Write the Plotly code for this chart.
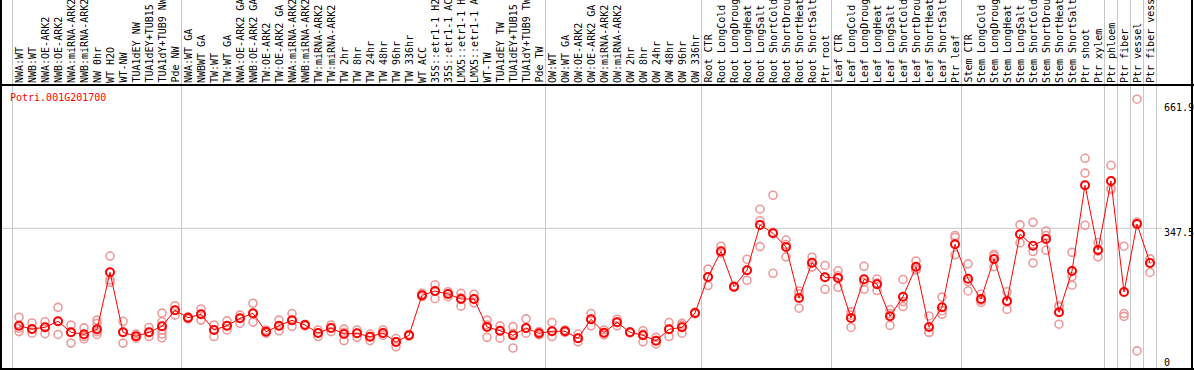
import plotly.graph_objects as go

title_text = "Potri.001G201700"

labels = [
    "NWA:WT", "NWB:WT", "NWA:OE-ARK2", "NWB:OE-ARK2", "NWA:miRNA-ARK2", "NWB:miRNA-ARK2",
    "NW 0hr", "WT H2O", "WT-NW", "TUA1dEY NW", "TUA1dEY+TUB15 NW", "TUA1dY+TUB9 NW", "Pde NW",
    "NWA:WT GA", "NWBWT GA", "TW:WT", "TW:WT GA", "NWA:OE-ARK2 GA", "NWB:OE-ARK2 GA",
    "TW:OE-ARK2", "TW:OE-ARK2 GA", "NWA:miRNA-ARK2", "NWB:miRNA-ARK2", "TW:miRNA-ARK2",
    "TW:miRNA-ARK2", "TW 2hr", "TW 8hr", "TW 24hr", "TW 48hr", "TW 96hr", "TW 336hr",
    "WT ACC", "35S::etr1-1 H2O", "35S::etr1-1 ACC", "LMX5::etr1-1 H2O", "LMX5::etr1-1 ACC",
    "WT-TW", "TUA1dEY TW", "TUA1dEY+TUB15 TW", "TUA1dY+TUB9 TW", "Pde TW",
    "OW:WT", "OW:WT GA", "OW:OE-ARK2", "OW:OE-ARK2 GA", "OW:miRNA-ARK2", "OW:miRNA-ARK2",
    "OW 2hr", "OW 8hr", "OW 24hr", "OW 48hr", "OW 96hr", "OW 336hr",
    "Root CTR", "Root LongCold", "Root LongDrought", "Root LongHeat", "Root LongSalt",
    "Root ShortCold", "Root ShortDrought", "Root ShortHeat", "Root ShortSalt", "Ptr root",
    "Leaf CTR", "Leaf LongCold", "Leaf LongDrought", "Leaf LongHeat", "Leaf LongSalt",
    "Leaf ShortCold", "Leaf ShortDrought", "Leaf ShortHeat", "Leaf ShortSalt", "Ptr leaf",
    "Stem CTR", "Stem LongCold", "Stem LongDrought", "Stem LongHeat", "Stem LongSalt",
    "Stem ShortCold", "Stem ShortDrought", "Stem ShortHeat", "Stem ShortSalt", "Ptr shoot",
    "Ptr xylem", "Ptr phloem", "Ptr fiber", "Ptr vessel", "Ptr fiber vessel",
]

means = [
    110.3, 102.3, 106.4, 121.0, 94.3, 89.4, 101.6, 240.4, 94.3, 84.5, 94.3, 108.9, 147.8,
    129.8, 138.1, 99.9, 110.3, 128.3, 140.5, 95.7, 110.3, 123.5, 112.0, 92.5, 104.7, 90.1,
    91.8, 83.5, 92.5, 70.6, 86.9, 184.4, 194.8, 187.5, 175.4, 175.4, 107.2, 98.1, 86.9,
    104.7, 91.8, 96.7, 96.7, 79.6, 125.9, 93.3, 118.6, 94.3, 86.9, 73.8, 101.6, 106.4,
    141.3, 228.9, 291.5, 205.3, 245.3, 355.6, 335.4, 302.0, 177.8, 263.8, 228.2, 226.5,
    129.1, 223.3, 211.2, 133.2, 181.0, 254.0, 107.2, 155.1, 308.6, 224.8, 175.4, 272.8,
    170.5, 332.9, 305.2, 321.5, 143.0, 243.5, 452.3, 294.7, 462.7, 192.4, 358.0, 263.0,
]

replicates = [
    [131, 104, 96], [117, 102, 92], [120, 106, 91], [155, 121, 89], [112, 94, 68],
    [105, 84, 78], [124, 116, 96, 89], [280, 222, 216], [121, 95, 68], [90, 84, 80],
    [106, 94, 84], [141, 120, 100, 90, 81], [159, 148, 136], [132, 130, 127], [151, 138, 124],
    [112, 100, 84], [122, 110, 100], [136, 128, 116], [165, 140, 119], [100, 96, 92],
    [124, 110, 98], [140, 123, 109], [114, 112, 110], [100, 93, 84], [112, 105, 96],
    [102, 94, 74], [100, 92, 82], [90, 84, 74], [100, 92, 87], [79, 71, 59],
    [89, 87, 85], [189, 184, 181], [210, 195, 176], [193, 188, 181], [189, 178, 158],
    [187, 175, 166], [124, 112, 82], [110, 98, 80], [108, 92, 56], [127, 104, 92],
    [96, 92, 88], [118, 97, 84], [100, 97, 94], [90, 80, 71], [140, 126, 110],
    [100, 93, 88], [126, 119, 110], [95, 94, 93], [98, 90, 71], [82, 74, 66],
    [118, 102, 84], [116, 111, 92], [143, 141, 139], [248, 229, 208], [304, 291, 287],
    [207, 205, 204], [272, 245, 221], [394, 366, 303], [428, 338, 238], [319, 308, 278],
    [195, 188, 153], [277, 263, 253], [257, 228, 199], [244, 232, 204], [144, 136, 106],
    [255, 216, 199], [224, 214, 196], [149, 140, 111], [223, 169, 157], [268, 248, 246],
    [134, 94, 94], [180, 147, 138], [330, 325, 283], [261, 218, 195], [187, 172, 167],
    [284, 280, 254], [193, 168, 150], [356, 333, 312], [362, 291, 263], [341, 330, 294],
    [159, 156, 114], [289, 230, 209], [518, 482, 355], [313, 292, 278], [501, 445, 442],
    [304, 140, 133], [662, 363, 49], [273, 263, 240],
]

group_bounds = [0, 13, 41, 53, 63, 73, 84, 85, 86, 87, 88]
axis_values = [661.9, 347.5, 0]
axis_texts = ["661.9", "347.5", "0"]

W, H = 1194, 370
PX_PER_COL = 13.0
X0_PX = 19.0
Y_ZERO_PX = 371.0
PX_PER_UNIT = 0.4106

xr = [-X0_PX / PX_PER_COL, -X0_PX / PX_PER_COL + W / PX_PER_COL]
yr = [(Y_ZERO_PX - H) / PX_PER_UNIT, Y_ZERO_PX / PX_PER_UNIT]

def px_to_paper_y(py):
    return (H - py) / H

def px_to_data_x(px):
    return (px - X0_PX) / PX_PER_COL

rep_x, rep_y = [], []
for i, r in enumerate(replicates):
    rep_x += [i] * len(r)
    rep_y += r

x_idx = list(range(len(labels)))
mono = "DejaVu Sans Mono"

fig = go.Figure()
fig.add_trace(go.Scatter(
    x=rep_x, y=rep_y, mode="markers",
    marker=dict(symbol="circle-open", size=8, color="#ee9a9a", line=dict(width=1.6)),
    hoverinfo="skip", showlegend=False, cliponaxis=False,
))
fig.add_trace(go.Scatter(
    x=x_idx, y=means, mode="lines+markers",
    line=dict(color="#ff0000", width=1),
    marker=dict(symbol="circle-open", size=8, color="#ff0000", line=dict(width=2)),
    showlegend=False, cliponaxis=False,
))

shapes = []
for b in group_bounds:
    shapes.append(dict(type="line", xref="x", yref="paper", x0=b - 0.5, x1=b - 0.5,
                       y0=0, y1=1, line=dict(color="#c8c8c8", width=1), layer="below"))
shapes.append(dict(type="line", xref="x", yref="y", x0=xr[0], x1=px_to_data_x(1162),
                   y0=axis_values[1], y1=axis_values[1],
                   line=dict(color="#c8c8c8", width=1), layer="below"))
shapes.append(dict(type="line", xref="paper", yref="paper", x0=0, x1=1,
                   y0=px_to_paper_y(85), y1=px_to_paper_y(85), line=dict(color="black", width=2)))
shapes.append(dict(type="line", xref="paper", yref="paper", x0=0, x1=1,
                   y0=px_to_paper_y(369), y1=px_to_paper_y(369), line=dict(color="black", width=2)))
shapes.append(dict(type="line", xref="paper", yref="paper", x0=1 / W, x1=1 / W,
                   y0=0, y1=1, line=dict(color="black", width=2)))
shapes.append(dict(type="line", xref="paper", yref="paper", x0=1192 / W, x1=1192 / W,
                   y0=0, y1=1, line=dict(color="black", width=2)))

annotations = []
for i, lab in enumerate(labels):
    annotations.append(dict(
        x=i, y=px_to_paper_y(84), xref="x", yref="paper", text=lab, showarrow=False,
        textangle=-90, xanchor="center", yanchor="bottom", borderpad=0,
        font=dict(family=mono, size=10, color="black"),
    ))
annotations.append(dict(
    x=8 / W, y=px_to_paper_y(98), xref="paper", yref="paper", text=title_text,
    showarrow=False, xanchor="left", yanchor="middle",
    font=dict(family=mono, size=10, color="#ff0000"),
))
for py, t in zip([107, 232, 362], axis_texts):
    annotations.append(dict(
        x=1162 / W, y=px_to_paper_y(py), xref="paper", yref="paper", text=t,
        showarrow=False, xanchor="left", yanchor="middle",
        font=dict(family=mono, size=10, color="black"),
    ))

fig.update_layout(
    width=W, height=H,
    margin=dict(l=0, r=0, t=0, b=0),
    paper_bgcolor="white", plot_bgcolor="white",
    xaxis=dict(range=xr, visible=False, fixedrange=True),
    yaxis=dict(range=yr, visible=False, fixedrange=True),
    shapes=shapes, annotations=annotations,
    showlegend=False,
)

fig.write_html(
    "out.html",
    config={"displayModeBar": False},
    post_script="document.body.style.margin='0';document.body.style.overflow='hidden';",
)
